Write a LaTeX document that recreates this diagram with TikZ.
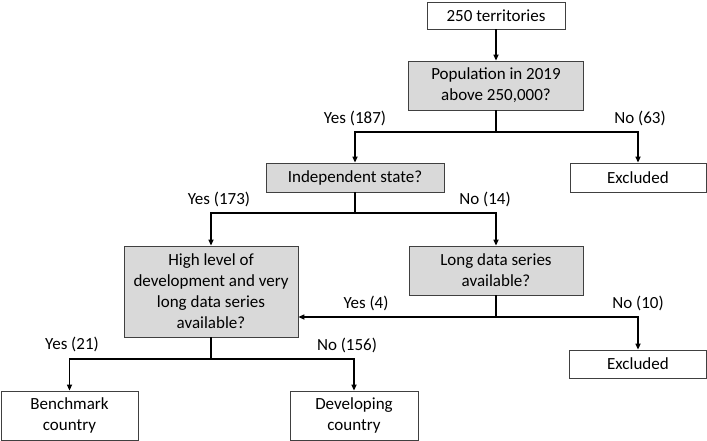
\documentclass[tikz,border=0pt]{standalone}
\usepackage{fontspec}
\setmainfont{Carlito}
\usetikzlibrary{arrows.meta}
\definecolor{qfill}{HTML}{D9D9D9}
\tikzset{
  box/.style={draw=black!75, line width=0.8pt, align=center, inner sep=2pt, font=\fontsize{17}{21}\selectfont},
  qbox/.style={box, fill=qfill},
  obox/.style={box, fill=white},
  arr/.style={line width=1.5pt, -{Triangle[length=6pt,width=5pt]}},
  ln/.style={line width=1.5pt},
  lab/.style={font=\fontsize{17}{20}\selectfont, inner sep=0pt}
}
\begin{document}
\begin{tikzpicture}[x=1pt,y=-1pt]
\useasboundingbox (0,0) rectangle (707,441);
\node[obox, minimum width=138pt, minimum height=27pt] (t250) at (496,15.5) {250 territories};
\node[qbox, minimum width=175pt, minimum height=49pt] (pop) at (496,85.5) {Population in 2019\\above 250,000?};
\node[obox, minimum width=136pt, minimum height=29pt] (exc1) at (638,177.5) {Excluded};
\node[qbox, minimum width=178pt, minimum height=29pt] (ind) at (355,177.5) {Independent state?};
\node[qbox, minimum width=174pt, minimum height=91pt] (high) at (211,291.5) {High level of\\development and very\\long data series\\available?};
\node[qbox, minimum width=174pt, minimum height=49pt] (long) at (496,270.5) {Long data series\\available?};
\node[obox, minimum width=137pt, minimum height=28pt] (exc2) at (638,364) {Excluded};
\node[obox, minimum width=137pt, minimum height=49pt] (bench) at (69.5,415.5) {Benchmark\\country};
\node[obox, minimum width=128pt, minimum height=49pt] (dev) at (354,415.5) {Developing\\country};

\coordinate (j1) at (496,132);
\coordinate (j2) at (355,213);
\coordinate (j3) at (496,317);
\coordinate (j4) at (211,359);

\draw[arr] (t250) -- (pop);
\draw[ln] (pop.south) -- (j1);
\draw[arr] (j1) -| (ind.north);
\draw[arr] (j1) -| (exc1.north);
\draw[ln] (ind.south) -- (j2);
\draw[arr] (j2) -| (high.north);
\draw[arr] (j2) -| (long.north);
\draw[ln] (long.south) -- (j3);
\draw[arr] (j3) -- (high.east |- j3);
\draw[arr] (j3) -| (exc2.north);
\draw[ln] (high.south) -- (j4);
\draw[arr] (j4) -| (bench.north);
\draw[arr] (j4) -| (dev.north);

\node[lab] (l1) at (355,118) {Yes (187)};
\node[lab] (l2) at (640,118) {No (63)};
\node[lab] (l3) at (219,199) {Yes (173)};
\node[lab] (l4) at (485,199) {No (14)};
\node[lab] (l5) at (366,303) {Yes (4)};
\node[lab] (l6) at (638,303) {No (10)};
\node[lab] (l7) at (72,344) {Yes (21)};
\node[lab] (l8) at (347,345) {No (156)};
\end{tikzpicture}
\end{document}
